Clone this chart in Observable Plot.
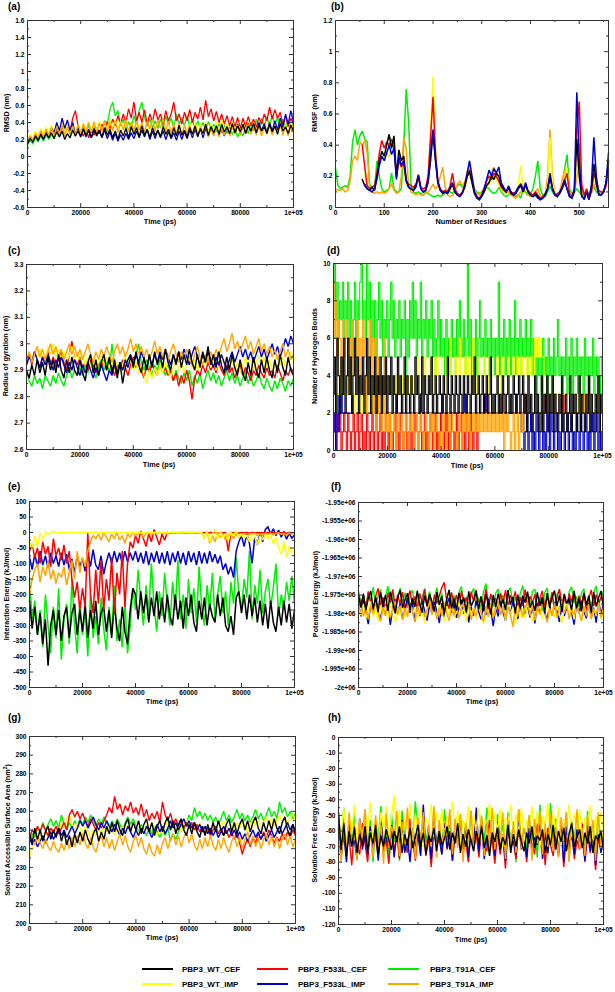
<!DOCTYPE html>
<html>
<head>
<meta charset="utf-8">
<script src="https://cdn.jsdelivr.net/npm/d3@7"></script>
<script src="https://cdn.jsdelivr.net/npm/@observablehq/plot@0.6"></script>
<style>
  body { margin: 0; background: #fff; }
  #page { position: relative; width: 615px; height: 992px; overflow: hidden; background: #fff;
          font-family: "Liberation Sans", Arial, sans-serif; font-weight: bold; color: #000; }
  .box { position: absolute; }
  .box svg { overflow: visible; display: block; }
  .tag { position: absolute; font-size: 10px; line-height: 1; }
  .xl { position: absolute; font-size: 7.3px; transform: translate(-50%, -50%); white-space: nowrap; }
  .yl { position: absolute; font-size: 7.2px; transform: translate(-50%, -50%) rotate(-90deg); white-space: nowrap; }
  .yl sup { font-size: 5px; }
  .lg-line { position: absolute; height: 2.5px; width: 31px; }
  .lg-text { position: absolute; font-size: 8px; transform: translateY(-50%); white-space: nowrap; }
</style>
</head>
<body>
<div id="page"></div>
<script>
// ---------------- sampling axes ----------------
const time = d3.range(0, 100001, 1000);      // ps
const timeHB = d3.range(0, 100001, 500);     // ps (hydrogen-bond panel)
const residues = d3.range(0, 561, 5);        // residue number

// ---------------- series names ----------------
const seriesKeys = ["WT_CEF", "F533L_CEF", "T91A_CEF", "WT_IMP", "F533L_IMP", "T91A_IMP"];
const seriesLabels = ["PBP3_WT_CEF", "PBP3_F533L_CEF", "PBP3_T91A_CEF", "PBP3_WT_IMP", "PBP3_F533L_IMP", "PBP3_T91A_IMP"];

// ---------------- (a) RMSD (nm) ----------------
const rmsd_WT_CEF = [0.15,0.21,0.17,0.24,0.19,0.26,0.2,0.27,0.22,0.28,
0.21,0.29,0.23,0.3,0.2,0.27,0.22,0.31,0.24,0.3,
0.23,0.32,0.25,0.3,0.22,0.33,0.26,0.31,0.23,0.34,
0.25,0.32,0.22,0.3,0.2,0.31,0.24,0.33,0.22,0.35,
0.26,0.34,0.23,0.36,0.25,0.32,0.22,0.34,0.25,0.31,
0.23,0.35,0.26,0.32,0.22,0.34,0.24,0.37,0.25,0.31,
0.23,0.34,0.26,0.36,0.24,0.33,0.27,0.38,0.25,0.35,
0.28,0.36,0.26,0.38,0.29,0.35,0.27,0.39,0.28,0.36,
0.29,0.38,0.27,0.36,0.3,0.39,0.28,0.37,0.3,0.35,
0.27,0.38,0.29,0.36,0.26,0.39,0.3,0.35,0.27,0.37,0.3];
const rmsd_F533L_CEF = [0.18,0.25,0.2,0.28,0.22,0.31,0.24,0.33,0.26,0.35,
0.27,0.33,0.25,0.36,0.28,0.35,0.3,0.45,0.54,0.36,
0.3,0.24,0.33,0.22,0.31,0.25,0.34,0.27,0.38,0.3,
0.41,0.33,0.44,0.36,0.48,0.38,0.5,0.4,0.56,0.45,
0.64,0.42,0.52,0.4,0.55,0.38,0.5,0.41,0.56,0.43,
0.5,0.38,0.54,0.42,0.5,0.64,0.42,0.5,0.38,0.52,
0.42,0.55,0.4,0.52,0.44,0.58,0.43,0.66,0.47,0.56,
0.42,0.53,0.4,0.5,0.38,0.48,0.36,0.47,0.35,0.46,
0.33,0.45,0.35,0.47,0.36,0.44,0.34,0.46,0.38,0.5,
0.42,0.58,0.44,0.55,0.45,0.52,0.38,0.48,0.35,0.45,0.38];
const rmsd_T91A_CEF = [0.13,0.19,0.15,0.22,0.17,0.24,0.18,0.26,0.2,0.25,
0.23,0.33,0.26,0.38,0.28,0.35,0.26,0.33,0.24,0.34,
0.25,0.35,0.27,0.37,0.28,0.36,0.3,0.4,0.32,0.42,
0.38,0.55,0.64,0.48,0.54,0.36,0.44,0.3,0.41,0.33,
0.48,0.38,0.55,0.64,0.46,0.36,0.44,0.34,0.42,0.33,
0.44,0.35,0.48,0.37,0.45,0.34,0.5,0.38,0.46,0.36,
0.48,0.35,0.44,0.32,0.42,0.33,0.4,0.3,0.41,0.32,
0.38,0.29,0.39,0.28,0.37,0.27,0.35,0.26,0.33,0.23,
0.3,0.24,0.34,0.27,0.4,0.3,0.44,0.33,0.45,0.35,
0.47,0.36,0.49,0.37,0.46,0.35,0.44,0.33,0.42,0.32,0.4];
const rmsd_WT_IMP = [0.18,0.26,0.2,0.3,0.23,0.33,0.25,0.35,0.27,0.37,
0.28,0.38,0.3,0.4,0.27,0.37,0.29,0.39,0.27,0.38,
0.28,0.39,0.3,0.41,0.29,0.38,0.31,0.42,0.3,0.4,
0.32,0.43,0.33,0.44,0.32,0.42,0.31,0.43,0.3,0.41,
0.29,0.39,0.27,0.36,0.25,0.35,0.24,0.34,0.23,0.32,
0.24,0.35,0.23,0.34,0.26,0.36,0.24,0.35,0.26,0.37,
0.28,0.39,0.27,0.4,0.29,0.38,0.28,0.41,0.3,0.39,
0.28,0.4,0.3,0.43,0.31,0.39,0.29,0.41,0.3,0.4,
0.28,0.39,0.3,0.42,0.29,0.4,0.31,0.38,0.27,0.4,
0.29,0.41,0.28,0.39,0.3,0.42,0.29,0.38,0.27,0.4,0.3];
const rmsd_F533L_IMP = [0.16,0.23,0.18,0.25,0.19,0.28,0.21,0.29,0.23,0.33,
0.28,0.4,0.3,0.45,0.33,0.43,0.3,0.4,0.26,0.34,
0.24,0.33,0.23,0.32,0.22,0.31,0.24,0.3,0.22,0.31,
0.21,0.29,0.19,0.27,0.18,0.26,0.19,0.27,0.2,0.28,
0.21,0.3,0.22,0.31,0.23,0.32,0.2,0.3,0.21,0.31,
0.22,0.3,0.2,0.29,0.21,0.28,0.19,0.3,0.2,0.29,
0.21,0.31,0.22,0.32,0.23,0.33,0.22,0.34,0.24,0.35,
0.25,0.36,0.26,0.33,0.24,0.35,0.26,0.37,0.28,0.38,
0.27,0.37,0.28,0.39,0.29,0.38,0.27,0.4,0.3,0.39,
0.28,0.4,0.3,0.42,0.31,0.45,0.34,0.5,0.38,0.54,0.4];
const rmsd_T91A_IMP = [0.17,0.24,0.19,0.27,0.21,0.3,0.23,0.32,0.24,0.34,
0.25,0.35,0.26,0.37,0.24,0.34,0.27,0.36,0.25,0.38,
0.27,0.39,0.28,0.4,0.29,0.41,0.28,0.39,0.3,0.4,
0.29,0.41,0.3,0.42,0.28,0.4,0.31,0.43,0.29,0.41,
0.3,0.42,0.31,0.4,0.29,0.42,0.32,0.44,0.3,0.43,
0.33,0.45,0.3,0.41,0.28,0.39,0.27,0.38,0.25,0.37,
0.26,0.37,0.25,0.36,0.24,0.35,0.26,0.37,0.23,0.34,
0.24,0.35,0.23,0.34,0.25,0.36,0.24,0.35,0.26,0.37,
0.25,0.36,0.27,0.38,0.26,0.37,0.25,0.36,0.24,0.35,
0.26,0.37,0.25,0.36,0.27,0.38,0.25,0.35,0.24,0.36,0.28];

// ---------------- (b) RMSF (nm) per residue ----------------
const rmsf_WT_CEF = [null,null,null,null,null,null,null,null,null,null,
null,0.18,0.14,0.12,0.11,0.13,0.11,0.2,0.3,0.36,
0.33,0.4,0.47,0.38,0.46,0.2,0.37,0.3,0.33,0.18,
0.13,0.12,0.11,0.14,0.2,0.12,0.1,0.11,0.16,0.3,
0.48,0.3,0.16,0.11,0.09,0.1,0.09,0.12,0.15,0.1,
0.08,0.07,0.09,0.13,0.2,0.23,0.16,0.09,0.06,0.05,
0.07,0.1,0.14,0.16,0.2,0.18,0.22,0.2,0.14,0.12,
0.1,0.13,0.09,0.08,0.09,0.12,0.14,0.1,0.15,0.1,
0.08,0.07,0.09,0.07,0.05,0.06,0.08,0.12,0.2,0.12,
0.08,0.07,0.09,0.12,0.16,0.12,0.07,0.06,0.1,0.44,
0.2,0.07,0.06,0.1,0.05,0.12,0.28,0.15,0.08,0.08,
0.1,0.16,0.3];
const rmsf_F533L_CEF = [null,null,null,null,null,null,null,null,null,null,
null,0.4,0.26,0.14,0.12,0.13,0.14,0.22,0.35,0.43,
0.38,0.42,0.4,0.44,0.38,0.2,0.3,0.26,0.28,0.17,
0.15,0.14,0.13,0.15,0.21,0.13,0.12,0.13,0.2,0.45,
0.71,0.35,0.17,0.12,0.1,0.11,0.1,0.14,0.22,0.12,
0.09,0.08,0.1,0.14,0.2,0.24,0.17,0.1,0.07,0.06,
0.08,0.12,0.17,0.2,0.18,0.22,0.2,0.17,0.13,0.11,
0.1,0.12,0.1,0.09,0.1,0.13,0.15,0.12,0.14,0.11,
0.09,0.08,0.1,0.08,0.06,0.07,0.09,0.12,0.19,0.12,
0.09,0.08,0.1,0.14,0.18,0.22,0.09,0.07,0.12,0.5,
0.68,0.15,0.08,0.12,0.07,0.1,0.22,0.17,0.11,0.1,
0.1,0.14,0.28];
const rmsf_T91A_CEF = [0.25,0.14,0.12,0.13,0.14,0.13,0.2,0.42,0.5,0.4,
0.46,0.49,0.44,0.42,0.15,0.12,0.11,0.3,0.2,0.12,
0.1,0.11,0.12,0.22,0.12,0.1,0.1,0.12,0.4,0.76,
0.55,0.14,0.1,0.09,0.1,0.09,0.08,0.1,0.09,0.08,
0.07,0.07,0.08,0.07,0.08,0.09,0.11,0.1,0.09,0.12,
0.14,0.15,0.13,0.16,0.2,0.25,0.18,0.12,0.1,0.09,
0.1,0.12,0.13,0.12,0.1,0.09,0.1,0.13,0.1,0.08,
0.07,0.08,0.1,0.09,0.07,0.08,0.06,0.12,0.1,0.08,
0.09,0.12,0.2,0.3,0.12,0.08,0.07,0.1,0.14,0.1,
0.08,0.09,0.1,0.14,0.25,0.34,0.12,0.09,0.1,0.12,
0.1,0.08,0.08,0.1,0.09,0.11,0.13,0.1,0.09,0.1,
0.11,0.15,0.25];
const rmsf_WT_IMP = [null,null,null,null,null,null,null,null,null,null,
null,null,0.22,0.13,0.12,0.12,0.11,0.2,0.28,0.34,
0.3,0.36,0.32,0.4,0.42,0.2,0.3,0.25,0.28,0.15,
0.13,0.12,0.11,0.13,0.18,0.12,0.11,0.12,0.2,0.5,
0.84,0.4,0.15,0.11,0.1,0.1,0.09,0.11,0.13,0.1,
0.08,0.08,0.09,0.12,0.18,0.22,0.15,0.09,0.07,0.06,
0.08,0.1,0.13,0.15,0.17,0.2,0.18,0.15,0.12,0.1,
0.1,0.12,0.09,0.08,0.1,0.14,0.27,0.12,0.13,0.1,
0.08,0.07,0.08,0.07,0.06,0.07,0.08,0.14,0.45,0.15,
0.08,0.07,0.09,0.15,0.2,0.25,0.1,0.07,0.09,0.3,
0.2,0.08,0.06,0.1,0.06,0.1,0.2,0.14,0.09,0.09,
0.1,0.15,0.3];
const rmsf_F533L_IMP = [null,null,null,null,null,null,null,null,null,null,
null,null,0.15,0.12,0.11,0.1,0.12,0.18,0.27,0.33,
0.3,0.35,0.4,0.34,0.38,0.18,0.33,0.27,0.3,0.17,
0.13,0.12,0.11,0.13,0.21,0.12,0.1,0.11,0.18,0.35,
0.5,0.32,0.16,0.11,0.1,0.1,0.09,0.13,0.16,0.1,
0.08,0.07,0.09,0.14,0.22,0.3,0.2,0.1,0.07,0.05,
0.08,0.12,0.18,0.24,0.2,0.25,0.22,0.26,0.16,0.13,
0.1,0.14,0.1,0.08,0.1,0.13,0.15,0.11,0.16,0.1,
0.08,0.07,0.08,0.06,0.05,0.06,0.08,0.12,0.22,0.12,
0.08,0.07,0.1,0.13,0.18,0.12,0.07,0.06,0.12,0.74,
0.3,0.08,0.05,0.1,0.05,0.15,0.45,0.2,0.09,0.08,
0.1,0.16,0.35];
const rmsf_T91A_IMP = [0.12,0.11,0.11,0.12,0.1,0.11,0.17,0.3,0.33,0.3,
0.42,0.4,0.43,0.35,0.13,0.1,0.09,0.1,0.09,0.1,
0.09,0.1,0.12,0.15,0.11,0.09,0.1,0.2,0.45,0.38,
0.14,0.1,0.09,0.08,0.09,0.08,0.08,0.09,0.1,0.12,
0.15,0.12,0.14,0.2,0.26,0.13,0.08,0.07,0.08,0.1,
0.15,0.17,0.14,0.16,0.22,0.28,0.2,0.12,0.09,0.08,
0.1,0.13,0.14,0.16,0.22,0.26,0.2,0.16,0.12,0.1,
0.09,0.1,0.08,0.07,0.06,0.08,0.1,0.12,0.09,0.08,
0.07,0.08,0.1,0.12,0.08,0.06,0.08,0.2,0.5,0.2,
0.09,0.08,0.1,0.18,0.24,0.2,0.1,0.08,0.09,0.2,
0.41,0.12,0.08,0.1,0.07,0.09,0.15,0.12,0.1,0.1,
0.11,0.14,0.2];

// ---------------- (c) Radius of gyration (nm) ----------------
const rg_WT_CEF = [2.9,2.87,2.92,2.88,2.94,2.89,2.93,2.88,2.95,2.9,
2.94,2.89,2.96,2.9,2.87,2.94,2.89,2.95,2.9,2.88,
2.94,2.89,2.86,2.93,2.96,2.89,2.94,2.88,2.93,2.96,
2.9,2.95,2.89,2.94,2.87,2.93,2.85,2.91,2.94,2.96,
2.91,2.97,2.92,2.89,2.95,2.9,2.96,2.91,2.97,2.92,
2.96,2.91,2.98,2.93,2.9,2.96,2.92,2.97,2.91,2.96,
2.92,2.98,2.93,2.9,2.96,2.91,2.97,2.93,2.99,2.92,
2.96,2.91,2.97,2.92,2.89,2.95,2.9,2.96,2.91,2.88,
2.94,2.89,2.86,2.93,2.88,2.95,2.9,2.87,2.94,2.89,
2.95,2.9,2.87,2.94,2.89,2.96,2.91,2.88,2.95,2.9,2.88];
const rg_F533L_CEF = [2.93,2.96,2.92,2.97,2.94,2.91,2.95,2.93,2.97,2.92,
2.95,2.91,2.94,2.97,2.93,2.9,2.96,3.01,2.94,2.92,
2.95,2.91,2.93,2.9,2.94,2.92,2.89,2.93,2.91,2.94,
2.9,2.93,2.91,2.88,2.92,2.9,2.94,2.91,2.88,2.92,
2.95,2.91,2.94,2.9,2.87,2.92,2.89,2.93,2.9,2.88,
2.92,2.89,2.91,2.88,2.9,2.86,2.89,2.84,2.88,2.85,
2.9,2.86,2.79,2.87,2.9,2.88,2.92,2.89,2.93,2.9,
2.92,2.89,2.93,2.9,2.88,2.92,2.89,2.91,2.87,2.9,
2.92,2.88,2.91,2.89,2.86,2.9,2.88,2.92,2.89,2.87,
2.91,2.88,2.9,2.87,2.92,2.89,2.86,2.9,2.88,2.91,2.89];
const rg_T91A_CEF = [2.9,2.86,2.84,2.88,2.85,2.87,2.83,2.88,2.86,2.84,
2.88,2.85,2.89,2.86,2.84,2.88,2.91,2.87,2.9,2.88,
2.91,2.88,2.92,2.89,2.93,2.9,2.87,2.91,2.94,2.9,
2.93,2.89,3.0,2.92,2.89,2.93,2.9,2.94,2.91,2.95,
2.92,2.96,3.0,2.93,2.9,2.94,2.91,2.88,2.92,2.9,
2.94,2.91,2.88,2.92,2.89,2.86,2.9,2.87,2.85,2.89,
2.86,2.9,2.84,2.88,2.85,2.89,2.83,2.87,2.9,2.86,
2.89,2.85,2.88,2.84,2.87,2.9,2.86,2.89,2.85,2.88,
2.84,2.87,2.9,2.85,2.88,2.84,2.86,2.89,2.85,2.83,
2.87,2.84,2.82,2.86,2.83,2.87,2.85,2.82,2.86,2.84,2.87];
const rg_WT_IMP = [2.92,2.95,2.93,2.97,2.94,2.98,2.95,2.93,2.99,2.96,
3.0,2.95,2.98,2.94,2.97,2.93,2.96,2.99,2.94,2.97,
2.93,2.96,2.92,2.95,2.91,2.94,2.9,2.93,2.96,2.92,
2.95,2.91,2.94,2.9,2.93,2.89,2.92,2.95,2.91,2.94,
2.9,2.93,2.89,2.92,2.88,2.85,2.9,2.87,2.91,2.88,
2.92,2.89,2.93,2.9,2.87,2.91,2.94,2.9,2.93,2.89,
2.92,2.95,2.91,2.94,2.9,2.93,2.96,2.92,2.95,2.91,
2.94,2.9,2.93,2.96,2.92,2.95,2.91,2.94,2.9,2.93,
2.89,2.92,2.95,2.91,2.94,2.9,2.93,2.96,2.92,2.95,
2.91,2.94,2.9,2.93,2.96,2.92,2.95,2.91,2.94,2.97,2.93];
const rg_F533L_IMP = [2.92,2.95,2.93,2.97,2.94,2.91,2.95,2.92,2.96,2.93,
2.9,2.94,2.91,2.95,2.92,2.89,2.93,2.9,2.94,2.91,
2.88,2.92,2.89,2.93,2.9,2.87,2.91,2.88,2.92,2.89,
2.86,2.9,2.88,2.92,2.89,2.93,2.9,2.94,2.91,2.95,
2.92,2.96,2.93,2.97,2.94,2.91,2.95,2.92,2.96,2.93,
2.97,2.94,2.98,2.95,2.92,2.96,2.93,2.97,2.94,2.98,
2.95,2.92,2.96,2.99,2.95,2.92,2.96,2.93,2.97,2.94,
2.91,2.95,2.92,2.96,2.93,2.9,2.94,2.97,2.93,2.96,
2.99,2.95,2.98,2.94,2.97,2.93,2.96,2.99,2.95,2.98,
2.94,2.97,3.0,2.96,2.99,2.95,2.98,3.02,2.99,3.03,3.0];
const rg_T91A_IMP = [2.94,2.97,2.93,2.96,2.99,2.95,2.98,2.94,2.97,3.0,
2.96,2.99,2.95,2.98,2.94,2.97,3.0,2.96,2.99,2.95,
2.98,2.94,2.97,3.0,2.96,2.93,2.97,2.94,2.98,2.95,
2.99,2.96,2.93,2.97,3.0,2.96,2.99,2.95,2.98,3.02,
2.97,3.0,2.96,2.99,2.95,2.98,2.94,2.97,3.01,2.96,
2.99,2.95,2.98,2.94,2.97,3.0,2.96,2.93,2.97,2.94,
2.98,2.95,2.92,2.96,2.99,2.95,2.92,2.96,2.93,2.97,
2.94,2.98,2.95,2.99,3.02,2.97,3.0,3.04,2.98,3.01,
2.97,3.0,3.03,2.98,3.01,2.96,2.99,3.02,2.97,3.0,
2.96,2.99,2.95,2.98,2.94,2.97,3.0,2.95,2.98,2.94,2.96];

// ---------------- (d) Number of hydrogen bonds (every 500 ps) ----------------
const hb_WT_CEF = [3,5,2,6,4,2,5,3,6,2, 4,6,3,5,2,4,6,3,5,2, 4,3,5,2,4,6,3,5,2,4, 3,5,2,4,3,5,2,4,3,5,
2,4,3,5,2,4,3,2,5,3, 4,2,3,5,2,4,3,2,4,3, 2,5,3,4,2,3,5,2,4,3, 2,4,3,5,2,3,4,2,3,4,
3,2,4,3,2,5,3,2,4,3, 2,4,3,2,4,3,2,4,3,2, 4,3,2,4,3,5,2,3,4,2, 3,4,2,3,4,2,3,5,2,3,
2,3,4,2,3,2,4,3,2,3, 4,2,3,2,4,3,2,3,4,2, 3,4,2,3,1,4,2,3,1,2, 4,2,3,1,2,4,1,3,2,4,
1,3,2,4,1,3,2,1,3,2, 4,1,2,3,1,2,4,1,3,2, 3,1,2,4,1,3,2,1,3,2, 4,1,3,2,1,3,2,4,1,3, 2];
const hb_F533L_CEF = [2,1,0,2,1,2,0,1,2,1, 0,2,1,0,1,2,0,1,2,0, 1,2,0,1,0,2,1,0,1,2, 0,1,2,0,1,2,0,1,0,2,
1,0,2,1,0,1,2,0,1,0, 2,1,0,1,2,0,1,2,0,1, 0,2,1,0,1,2,0,1,2,0, 1,0,2,1,0,1,2,0,1,0,
2,1,0,1,2,0,1,0,2,1, 0,1,2,0,1,2,0,1,0,2, 1,0,2,1,0,1,2,0,1,2, 2,2,2,3,2,2,2,2,2,2,
2,2,2,2,2,2,3,2,2,2, 2,2,2,2,2,2,2,2,2,2, 2,2,3,2,2,2,2,2,2,2, 2,2,2,2,2,2,2,2,3,2,
2,2,2,2,2,2,2,2,2,2, 2,3,2,2,2,2,2,2,2,2, 2,2,2,2,2,2,2,3,2,2, 2,2,2,2,2,2,2,2,2,2, 2];
const hb_T91A_CEF = [8,10,7,9,6,8,7,9,6,8, 7,9,6,8,5,7,9,6,8,7, 9,10,7,8,6,10,7,9,5,8, 6,8,5,7,9,6,8,5,7,6,
8,5,7,9,6,8,5,7,6,8, 5,7,6,8,4,7,5,8,6,9, 6,8,5,7,6,9,5,7,6,8, 5,7,6,8,5,7,4,6,8,5,
7,5,6,4,7,5,6,4,7,5, 6,4,7,5,8,6,5,7,4,6, 10,5,7,4,6,5,7,4,6,8, 5,6,4,7,5,6,4,7,5,6,
4,6,5,9,4,6,5,7,4,6, 5,7,4,6,5,8,4,6,5,7, 4,6,5,7,4,6,5,7,4,6, 5,3,6,4,5,3,6,4,5,3,
6,4,5,3,6,4,5,7,4,5, 3,5,4,6,3,5,4,6,3,5, 4,6,3,5,4,5,3,6,4,5, 3,5,4,6,3,5,4,5,3,4, 5];
const hb_WT_IMP = [3,3,2,3,3,3,4,3,3,3, 3,3,4,3,3,3,2,3,3,3, 3,2,3,3,3,4,3,3,3,2, 3,3,3,4,3,3,3,2,3,3,
3,3,4,3,3,3,3,4,3,3, 3,4,3,3,3,4,3,3,4,3, 3,4,4,5,4,4,3,4,5,4, 4,4,5,4,4,3,5,4,4,5,
5,4,4,3,5,4,4,6,4,4, 4,5,4,4,6,4,4,4,5,4, 4,5,4,4,6,4,4,3,5,4, 4,4,5,4,4,3,5,4,4,4,
4,4,5,4,4,3,5,4,4,4, 5,4,4,4,5,4,4,5,4,4, 5,4,4,4,5,4,4,5,4,4, 6,5,6,5,6,5,5,4,4,3,
3,3,3,3,3,3,3,3,3,3, 3,3,3,3,3,3,3,3,3,3, 3,3,2,3,3,3,2,3,3,3, 3,3,2,3,3,3,3,2,3,3, 3];
const hb_F533L_IMP = [1,2,0,3,1,2,3,2,2,2, 2,2,2,2,3,2,2,2,2,2, 2,2,2,2,2,2,2,2,2,2, 2,2,3,2,2,2,2,2,2,2,
2,2,2,2,2,2,2,3,2,2, 2,2,2,2,2,2,2,2,2,2, 2,2,2,2,2,3,2,2,2,2, 2,2,2,2,2,2,2,2,2,2,
2,3,2,2,2,2,2,2,2,2, 2,2,2,2,2,2,2,2,3,2, 2,2,2,2,2,2,2,2,2,2, 2,2,2,3,2,2,2,2,2,2,
2,2,2,2,2,2,2,2,2,2, 2,2,2,2,2,2,3,2,2,2, 1,2,0,1,2,0,1,2,0,1, 0,2,1,0,1,2,0,1,0,2,
1,0,2,1,0,1,2,0,1,0, 2,1,0,1,2,0,1,2,0,1, 0,2,1,0,2,1,0,1,2,0, 1,0,2,1,0,1,2,0,1,0, 1];
const hb_T91A_IMP = [9,6,8,5,7,6,4,7,5,6, 7,3,6,5,7,4,6,5,7,3, 6,4,7,5,6,2,5,7,4,6, 2,6,1,5,2,4,1,2,6,1,
2,1,2,0,1,2,1,0,2,1, 1,2,0,1,2,1,0,2,1,2, 0,1,2,0,1,2,1,0,1,2, 1,0,2,1,2,0,1,2,1,0,
1,0,2,1,0,1,2,0,1,2, 2,1,0,1,2,1,0,2,1,2, 1,2,0,1,2,1,2,1,2,1, 2,1,2,1,2,1,2,1,2,1,
2,1,2,1,2,1,2,0,2,1, 2,1,0,1,2,0,1,2,0,1, 2,1,2,2,2,2,2,2,2,2, 2,2,2,2,2,2,2,2,2,2,
2,2,2,2,3,2,2,2,2,2, 2,2,2,2,2,2,2,2,2,2, 2,2,2,2,2,2,2,3,2,2, 2,2,2,2,2,2,2,2,2,2, 2];

// ---------------- (e) Interaction energy (kJ/mol) ----------------
const ie_WT_CEF = [-220,-310,-240,-330,-260,-360,-280,-430,-300,-250,
-330,-250,-350,-270,-240,-340,-260,-230,-330,-250,
-320,-230,-340,-250,-310,-220,-330,-260,-240,-320,
-250,-340,-230,-310,-350,-240,-320,-360,-250,-180,
-200,-280,-190,-260,-200,-290,-210,-270,-190,-280,
-210,-290,-200,-270,-300,-200,-280,-220,-310,-210,
-270,-200,-290,-320,-220,-280,-210,-300,-230,-270,
-290,-200,-270,-210,-300,-320,-270,-330,-210,-190,
-260,-200,-280,-200,-270,-210,-290,-220,-300,-230,
-310,-220,-290,-320,-240,-300,-220,-290,-230,-310,-250];
const ie_F533L_CEF = [-60,-40,-80,-50,-100,-30,-70,-45,-110,-20,
-75,-50,-90,-40,-100,-60,-150,-210,-160,-250,
-180,-240,0,-200,-260,-120,-230,-90,-250,-150,
-220,-80,-260,-130,-200,-60,-240,-100,-30,-50,
-10,-35,5,-20,-45,-5,-30,10,-15,-40,
-5,-25,0,-3,0,-2,0,-1,0,-2,
0,-1,0,-2,0,-1,0,-2,0,-1,
0,-2,0,-1,0,-60,0,-1,0,-2,
0,-1,0,-2,0,-1,0,-1,0,-2,
0,-1,0,-2,0,-1,0,-2,0,-1,0];
const ie_T91A_CEF = [-150,-280,-220,-330,-250,-370,-200,-300,-390,-240,
-340,-180,-410,-280,-230,-360,-150,-300,-390,-220,
-330,-250,-400,-200,-340,-270,-360,-210,-310,-380,
-240,-330,-170,-350,-280,-370,-220,-390,-300,-180,
-250,-120,-220,-300,-170,-260,-100,-240,-320,-190,
-270,-130,-230,-300,-160,-250,-90,-280,-200,-310,
-150,-260,-180,-290,-110,-240,-300,-170,-250,-130,
-280,-200,-140,-260,-190,-300,-160,-230,-80,-200,
-250,-150,-210,-60,-280,-170,-230,-120,-260,-190,
-150,-240,-180,-100,-270,-200,-250,-160,-220,-140,-230];
const ie_WT_IMP = [-30,-55,-10,-45,-2,-20,0,-5,0,3,
0,-2,1,0,-1,0,2,0,-1,0,
0,1,0,-1,0,2,0,-1,0,1,
0,-1,0,1,0,-1,0,1,0,-1,
0,1,0,-1,0,1,0,0,-1,0,
1,0,-1,0,1,0,-1,0,1,0,
0,-1,0,1,0,-1,-20,5,-30,-5,
10,-20,5,-15,-5,-25,0,-10,5,-15,
-5,-20,-8,-30,-3,-15,-40,-10,-25,-5,
-20,-8,-35,-15,-50,-70,-30,-80,-45,-60,-75];
const ie_F533L_IMP = [-80,-120,-70,-110,-60,-105,-75,-115,-65,-100,
-75,-110,-65,-105,-70,-120,-85,-130,-75,-110,
-85,-125,-65,-110,-55,-105,-120,-75,-135,-95,
-65,-100,-60,-95,-65,-100,-60,-95,-65,-90,
-60,-95,-65,-100,-60,-105,-65,-95,-60,-100,
-65,-100,-60,-105,-65,-95,-60,-100,-65,-105,
-60,-95,-65,-105,-60,-100,-65,-100,-60,-95,
-70,-100,-75,-120,-100,-135,-110,-145,-60,-30,
-10,-45,-5,-35,-100,-15,-40,0,-30,10,
18,-5,12,-10,8,-15,3,-22,-2,-18,-8];
const ie_T91A_IMP = [-200,-150,-120,-100,-160,-110,-140,-95,-150,-120,
-165,-130,-145,-110,-170,-125,-90,-150,-60,-130,
-80,-110,-60,-30,-10,-20,-5,-25,0,-15,
-30,-5,-20,0,-25,-10,-35,-5,-15,0,
-10,-5,0,-15,-3,0,-8,0,-4,0,
-2,0,-5,0,-3,0,-2,0,-1,0,
-3,0,-1,0,-2,0,-20,5,-35,-10,
-30,0,-15,-5,-25,-10,0,-20,-5,-15,
-10,-3,-12,-5,-8,-2,-10,-4,-8,-3,
-6,-2,-8,-4,-1,-6,-3,-9,-2,-5,-4];

// ---------------- (f) Potential energy (kJ/mol) ----------------
const pe_WT_CEF = [-1975.2e3,-1978.4e3,-1974.6e3,-1979.1e3,-1976.0e3,-1973.9e3,-1978.8e3,-1975.5e3,-1979.6e3,-1974.3e3,
-1977.9e3,-1975.0e3,-1979.3e3,-1974.1e3,-1977.2e3,-1980.0e3,-1975.6e3,-1973.7e3,-1978.5e3,-1976.3e3,
-1974.5e3,-1979.0e3,-1975.8e3,-1978.2e3,-1973.8e3,-1977.5e3,-1979.8e3,-1975.1e3,-1978.0e3,-1974.7e3,
-1976.9e3,-1979.5e3,-1974.2e3,-1977.7e3,-1975.3e3,-1980.1e3,-1976.1e3,-1973.6e3,-1978.6e3,-1975.9e3,
-1979.2e3,-1974.4e3,-1977.4e3,-1975.7e3,-1979.7e3,-1974.0e3,-1978.1e3,-1976.4e3,-1973.9e3,-1978.9e3,
-1975.4e3,-1979.4e3,-1974.8e3,-1977.1e3,-1980.2e3,-1975.0e3,-1978.3e3,-1974.6e3,-1977.8e3,-1976.2e3,
-1979.1e3,-1973.7e3,-1977.6e3,-1975.5e3,-1979.9e3,-1974.9e3,-1978.7e3,-1975.2e3,-1977.0e3,-1974.1e3,
-1978.4e3,-1976.7e3,-1979.3e3,-1974.3e3,-1977.9e3,-1975.6e3,-1980.0e3,-1974.5e3,-1978.2e3,-1975.8e3,
-1973.8e3,-1978.0e3,-1975.1e3,-1979.6e3,-1974.7e3,-1977.3e3,-1975.9e3,-1979.0e3,-1974.0e3,-1978.6e3,
-1976.0e3,-1979.4e3,-1974.4e3,-1977.7e3,-1975.3e3,-1979.8e3,-1974.2e3,-1978.1e3,-1975.7e3,-1973.9e3,-1978.5e3];
const pe_F533L_CEF = [-1974.8e3,-1977.6e3,-1975.1e3,-1978.9e3,-1974.0e3,-1977.2e3,-1979.4e3,-1975.3e3,-1973.2e3,-1977.8e3,
-1975.6e3,-1979.0e3,-1974.4e3,-1976.9e3,-1973.5e3,-1978.3e3,-1975.0e3,-1977.5e3,-1974.2e3,-1979.2e3,
-1976.1e3,-1973.8e3,-1977.9e3,-1975.4e3,-1978.6e3,-1974.6e3,-1977.0e3,-1973.4e3,-1978.1e3,-1975.7e3,
-1979.3e3,-1974.9e3,-1977.3e3,-1975.2e3,-1973.0e3,-1971.6e3,-1976.5e3,-1978.7e3,-1974.3e3,-1977.6e3,
-1975.0e3,-1979.1e3,-1973.9e3,-1977.4e3,-1975.8e3,-1978.4e3,-1974.1e3,-1976.8e3,-1973.6e3,-1978.0e3,
-1975.5e3,-1977.7e3,-1973.3e3,-1978.8e3,-1974.7e3,-1977.1e3,-1975.9e3,-1979.5e3,-1974.5e3,-1977.3e3,
-1973.7e3,-1978.2e3,-1975.1e3,-1976.6e3,-1974.0e3,-1979.0e3,-1975.6e3,-1977.9e3,-1973.5e3,-1978.5e3,
-1975.3e3,-1977.2e3,-1974.8e3,-1979.3e3,-1976.0e3,-1973.9e3,-1978.1e3,-1975.4e3,-1977.6e3,-1974.2e3,
-1978.9e3,-1975.7e3,-1973.4e3,-1977.5e3,-1975.0e3,-1979.2e3,-1974.6e3,-1977.0e3,-1973.8e3,-1978.3e3,
-1975.2e3,-1977.8e3,-1974.4e3,-1979.4e3,-1975.9e3,-1973.6e3,-1978.0e3,-1974.9e3,-1977.4e3,-1975.5e3,-1977.1e3];
const pe_T91A_CEF = [-1973.8e3,-1977.1e3,-1975.0e3,-1978.4e3,-1974.2e3,-1976.8e3,-1972.9e3,-1977.9e3,-1975.3e3,-1973.5e3,
-1978.0e3,-1975.6e3,-1972.6e3,-1977.4e3,-1974.7e3,-1978.8e3,-1975.9e3,-1973.1e3,-1977.0e3,-1974.4e3,
-1978.5e3,-1975.2e3,-1973.7e3,-1977.7e3,-1974.9e3,-1979.0e3,-1975.5e3,-1973.3e3,-1977.3e3,-1974.1e3,
-1978.2e3,-1975.8e3,-1973.0e3,-1977.6e3,-1974.6e3,-1978.9e3,-1976.2e3,-1973.6e3,-1977.2e3,-1975.1e3,
-1978.6e3,-1974.3e3,-1972.7e3,-1977.8e3,-1975.4e3,-1978.1e3,-1974.8e3,-1973.2e3,-1977.5e3,-1975.7e3,
-1979.1e3,-1974.0e3,-1971.9e3,-1977.0e3,-1975.2e3,-1978.3e3,-1974.5e3,-1973.4e3,-1977.7e3,-1975.0e3,
-1978.7e3,-1974.2e3,-1973.0e3,-1977.4e3,-1975.6e3,-1978.0e3,-1974.7e3,-1972.4e3,-1977.1e3,-1975.3e3,
-1978.4e3,-1974.0e3,-1973.5e3,-1977.9e3,-1975.8e3,-1979.2e3,-1974.4e3,-1973.1e3,-1977.3e3,-1975.5e3,
-1978.6e3,-1974.9e3,-1973.7e3,-1977.6e3,-1975.1e3,-1978.9e3,-1974.1e3,-1972.8e3,-1977.2e3,-1975.4e3,
-1978.1e3,-1974.6e3,-1973.3e3,-1977.8e3,-1975.0e3,-1978.5e3,-1974.3e3,-1972.6e3,-1977.5e3,-1975.7e3,-1973.9e3];
const pe_WT_IMP = [-1978.2e3,-1980.5e3,-1977.4e3,-1981.3e3,-1979.0e3,-1976.8e3,-1980.9e3,-1978.6e3,-1982.0e3,-1977.9e3,
-1980.2e3,-1978.0e3,-1981.6e3,-1977.2e3,-1979.7e3,-1982.4e3,-1978.4e3,-1980.7e3,-1977.6e3,-1981.0e3,
-1979.3e3,-1976.9e3,-1980.4e3,-1978.1e3,-1981.8e3,-1977.7e3,-1980.0e3,-1982.6e3,-1978.8e3,-1976.6e3,
-1980.6e3,-1978.3e3,-1981.4e3,-1977.5e3,-1979.9e3,-1982.1e3,-1978.0e3,-1980.8e3,-1977.3e3,-1981.2e3,
-1979.5e3,-1977.0e3,-1980.3e3,-1978.7e3,-1982.3e3,-1977.8e3,-1980.1e3,-1978.2e3,-1981.5e3,-1977.1e3,
-1979.8e3,-1982.8e3,-1978.5e3,-1980.6e3,-1977.4e3,-1981.1e3,-1978.9e3,-1976.7e3,-1980.5e3,-1978.0e3,
-1981.9e3,-1977.6e3,-1980.2e3,-1978.4e3,-1983.0e3,-1977.9e3,-1980.9e3,-1978.6e3,-1981.3e3,-1977.2e3,
-1979.6e3,-1982.2e3,-1978.1e3,-1980.4e3,-1977.5e3,-1981.7e3,-1978.8e3,-1976.9e3,-1980.7e3,-1978.3e3,
-1981.0e3,-1977.7e3,-1980.0e3,-1982.5e3,-1978.6e3,-1976.8e3,-1980.8e3,-1978.2e3,-1981.6e3,-1977.4e3,
-1979.9e3,-1982.0e3,-1978.0e3,-1980.3e3,-1977.6e3,-1981.4e3,-1978.7e3,-1980.6e3,-1977.1e3,-1981.8e3,-1979.2e3];
const pe_F533L_IMP = [-1977.5e3,-1980.8e3,-1976.4e3,-1979.6e3,-1982.9e3,-1977.1e3,-1980.2e3,-1975.8e3,-1979.0e3,-1981.7e3,
-1976.9e3,-1980.5e3,-1977.8e3,-1983.1e3,-1978.4e3,-1976.2e3,-1980.0e3,-1977.3e3,-1981.4e3,-1978.7e3,
-1975.9e3,-1979.8e3,-1977.0e3,-1982.2e3,-1978.1e3,-1980.7e3,-1976.5e3,-1979.3e3,-1981.9e3,-1977.6e3,
-1980.3e3,-1976.8e3,-1979.5e3,-1982.6e3,-1977.2e3,-1980.9e3,-1978.0e3,-1975.7e3,-1979.9e3,-1977.4e3,
-1981.2e3,-1978.5e3,-1976.3e3,-1980.1e3,-1977.9e3,-1982.4e3,-1978.2e3,-1980.6e3,-1976.6e3,-1979.4e3,
-1981.6e3,-1977.7e3,-1980.4e3,-1976.0e3,-1979.1e3,-1983.4e3,-1978.3e3,-1980.8e3,-1977.0e3,-1979.7e3,
-1982.0e3,-1977.5e3,-1980.2e3,-1976.7e3,-1979.2e3,-1981.5e3,-1978.6e3,-1976.1e3,-1980.6e3,-1977.8e3,
-1981.1e3,-1978.0e3,-1982.7e3,-1977.3e3,-1980.0e3,-1976.4e3,-1979.6e3,-1981.8e3,-1977.6e3,-1980.4e3,
-1976.9e3,-1979.3e3,-1982.3e3,-1977.9e3,-1980.7e3,-1978.2e3,-1975.8e3,-1979.8e3,-1983.0e3,-1977.4e3,
-1980.1e3,-1976.5e3,-1979.5e3,-1981.3e3,-1977.1e3,-1980.9e3,-1978.4e3,-1982.5e3,-1976.8e3,-1979.9e3,-1977.7e3];
const pe_T91A_IMP = [-1979.5e3,-1977.2e3,-1980.8e3,-1978.0e3,-1981.6e3,-1977.6e3,-1980.1e3,-1976.9e3,-1979.8e3,-1982.1e3,
-1978.3e3,-1980.6e3,-1977.4e3,-1981.2e3,-1978.7e3,-1976.6e3,-1980.3e3,-1977.9e3,-1981.8e3,-1978.5e3,
-1980.9e3,-1977.0e3,-1979.6e3,-1982.3e3,-1978.1e3,-1980.4e3,-1977.7e3,-1981.0e3,-1978.9e3,-1976.5e3,
-1980.2e3,-1977.8e3,-1981.5e3,-1978.4e3,-1980.7e3,-1977.1e3,-1979.9e3,-1982.0e3,-1978.2e3,-1980.5e3,
-1977.5e3,-1981.3e3,-1978.6e3,-1976.8e3,-1980.0e3,-1977.3e3,-1981.7e3,-1978.8e3,-1980.6e3,-1977.6e3,
-1979.7e3,-1982.2e3,-1978.0e3,-1980.9e3,-1977.2e3,-1981.1e3,-1978.5e3,-1976.7e3,-1980.4e3,-1977.9e3,
-1981.4e3,-1978.2e3,-1980.1e3,-1983.6e3,-1978.7e3,-1980.8e3,-1977.0e3,-1981.0e3,-1978.3e3,-1976.9e3,
-1980.5e3,-1977.7e3,-1981.9e3,-1978.1e3,-1980.3e3,-1977.4e3,-1979.8e3,-1982.4e3,-1978.6e3,-1980.7e3,
-1977.1e3,-1981.2e3,-1978.4e3,-1976.6e3,-1980.0e3,-1977.8e3,-1981.6e3,-1978.9e3,-1980.2e3,-1977.3e3,
-1979.6e3,-1982.0e3,-1978.0e3,-1980.8e3,-1977.5e3,-1981.5e3,-1978.7e3,-1980.3e3,-1977.0e3,-1981.1e3,-1978.4e3];

// ---------------- (g) SASA (nm^2) ----------------
const sasa_WT_CEF = [248,243,251,245,250,244,249,252,245,250,
246,251,244,249,242,247,241,248,243,249,
244,250,245,242,248,251,244,249,245,252,
248,254,249,255,250,247,253,256,249,254,
250,255,248,253,256,249,254,247,252,255,
249,254,257,250,255,248,253,256,250,247,
253,248,254,249,246,252,247,253,248,254,
249,255,250,247,253,256,249,254,248,253,
256,250,255,249,254,257,251,248,254,249,
255,250,256,251,248,254,257,250,247,253,248];
const sasa_F533L_CEF = [246,250,248,252,249,253,250,247,251,249,
252,248,251,254,250,258,261,257,260,256,
259,255,252,256,253,250,254,251,255,258,
262,259,268,261,264,258,263,260,265,259,
262,258,264,257,261,255,259,256,260,254,
265,258,255,259,253,256,252,255,251,254,
251,254,250,253,249,252,248,251,247,250,
252,248,251,247,250,246,249,245,248,243,
237,242,245,241,246,243,248,245,249,246,
250,247,243,246,244,248,245,249,246,250,247];
const sasa_T91A_CEF = [244,248,246,251,249,254,250,253,256,252,
255,251,258,253,250,254,251,255,252,256,
253,257,254,258,255,252,256,253,257,254,
251,255,252,256,253,250,254,257,253,256,
252,249,253,250,247,251,248,252,249,246,
250,247,251,244,248,245,249,253,250,254,
258,255,262,257,260,256,259,255,258,254,
257,253,256,260,255,258,254,257,261,256,
259,255,258,254,257,261,256,259,255,258,
262,257,260,256,265,259,262,257,260,256,259];
const sasa_WT_IMP = [236,241,245,243,247,244,249,246,250,248,
252,249,254,251,256,258,253,250,254,251,
248,252,249,246,250,247,251,248,252,249,
253,250,247,251,248,252,249,253,250,254,
251,248,252,249,253,250,254,251,247,251,
248,252,255,251,254,250,253,249,252,256,
252,249,253,250,254,251,248,252,249,253,
250,254,251,255,252,249,253,250,254,251,
255,252,249,253,256,252,255,251,254,257,
253,256,252,255,258,254,257,253,256,259,255];
const sasa_F533L_IMP = [246,242,245,241,244,247,243,246,249,245,
248,251,247,250,246,249,252,248,251,255,
252,255,251,254,257,253,250,254,251,255,
252,249,253,250,247,251,248,252,249,246,
250,247,251,248,252,249,246,250,253,249,
252,248,251,255,251,254,250,253,256,252,
255,251,254,250,253,249,252,248,251,247,
250,246,249,252,248,251,247,250,246,249,
245,248,244,247,250,246,249,245,248,244,
247,250,246,249,252,248,251,254,250,253,249];
const sasa_T91A_IMP = [248,244,242,247,243,240,245,241,239,244,
240,238,243,239,245,240,246,241,247,242,
248,243,240,246,241,238,244,247,241,246,
240,245,239,244,248,242,247,241,238,244,
247,241,246,240,237,243,238,236,242,237,
243,246,240,245,248,242,247,241,246,249,
243,248,242,239,245,240,246,241,247,242,
239,245,240,246,241,238,244,247,241,246,
240,245,249,242,247,241,246,240,245,248,
242,247,241,246,240,245,248,242,247,241,245];

// ---------------- (h) Solvation free energy (kJ/mol) ----------------
const sfe_WT_CEF = [-48,-72,-55,-76,-60,-70,-58,-74,-62,-69,
-57,-73,-61,-68,-56,-75,-63,-70,-59,-66,
-72,-60,-67,-57,-74,-62,-69,-58,-71,-64,
-56,-70,-61,-75,-63,-67,-58,-73,-60,-69,
-65,-57,-72,-61,-68,-55,-74,-62,-70,-59,
-66,-73,-60,-68,-57,-71,-63,-76,-61,-67,
-58,-72,-64,-69,-56,-74,-62,-70,-59,-67,
-73,-61,-68,-57,-71,-63,-66,-59,-74,-62,
-69,-56,-72,-60,-67,-58,-73,-62,-55,-70,
-64,-59,-71,-61,-68,-57,-74,-63,-66,-60,-72];
const sfe_F533L_CEF = [-60,-78,-52,-71,-64,-82,-57,-69,-75,-55,
-68,-80,-58,-72,-63,-77,-54,-70,-66,-81,
-59,-73,-62,-78,-56,-69,-74,-52,-67,-79,
-61,-71,-57,-76,-64,-83,-58,-70,-65,-75,
-55,-72,-60,-79,-63,-68,-54,-74,-66,-80,
-59,-71,-62,-77,-57,-69,-73,-53,-66,-81,
-60,-75,-64,-84,-58,-70,-67,-78,-56,-72,
-63,-80,-59,-68,-75,-55,-71,-62,-82,-58,
-69,-76,-61,-73,-57,-83,-64,-70,-59,-78,
-66,-72,-55,-80,-62,-74,-60,-85,-65,-71,-68];
const sfe_T91A_CEF = [-50,-70,-45,-75,-55,-66,-48,-78,-58,-68,
-46,-72,-53,-80,-57,-65,-44,-71,-60,-76,
-49,-67,-54,-79,-47,-63,-72,-52,-69,-41,
-61,-75,-50,-68,-56,-81,-48,-70,-59,-74,
-46,-66,-53,-77,-57,-64,-50,-73,-55,-79,
-47,-69,-58,-74,-51,-67,-45,-72,-60,-78,
-49,-65,-56,-76,-48,-70,-54,-80,-46,-68,
-58,-73,-50,-66,-55,-77,-43,-69,-61,-75,
-42,-67,-52,-74,-57,-71,-48,-79,-54,-65,
-50,-70,-56,-76,-47,-68,-59,-73,-51,-66,-62];
const sfe_WT_IMP = [-52,-66,-45,-70,-50,-62,-43,-68,-55,-64,
-47,-60,-41,-67,-53,-71,-48,-58,-44,-65,
-50,-37,-63,-46,-69,-52,-59,-42,-66,-49,
-61,-45,-70,-51,-57,-43,-64,-48,-60,-46,
-67,-50,-56,-41,-63,-47,-69,-53,-58,-44,
-65,-49,-61,-45,-68,-52,-57,-42,-64,-48,
-60,-46,-70,-51,-55,-43,-66,-49,-62,-45,
-67,-53,-58,-44,-63,-47,-71,-50,-56,-42,
-65,-48,-61,-45,-69,-52,-57,-43,-64,-49,
-59,-46,-68,-51,-55,-44,-66,-50,-62,-47,-60];
const sfe_F533L_IMP = [-58,-76,-62,-80,-54,-70,-66,-78,-52,-72,
-63,-75,-57,-69,-60,-79,-55,-73,-64,-71,
-56,-77,-61,-68,-53,-74,-65,-80,-58,-70,
-62,-76,-43,-72,-59,-78,-54,-67,-63,-75,
-57,-71,-60,-79,-55,-69,-64,-74,-58,-77,
-61,-70,-45,-73,-56,-78,-63,-68,-59,-76,
-54,-72,-62,-79,-57,-71,-65,-75,-53,-70,
-60,-77,-58,-73,-64,-69,-56,-78,-61,-74,
-55,-71,-63,-76,-59,-80,-57,-72,-62,-75,
-58,-70,-64,-79,-56,-73,-61,-82,-59,-74,-66];
const sfe_T91A_IMP = [-62,-80,-55,-75,-48,-70,-58,-79,-52,-67,
-46,-73,-60,-77,-50,-69,-56,-81,-49,-71,
-57,-64,-47,-76,-54,-68,-45,-72,-59,-78,
-51,-66,-48,-74,-56,-70,-44,-77,-53,-69,
-58,-63,-46,-75,-52,-71,-49,-80,-55,-67,
-47,-73,-57,-65,-50,-76,-54,-70,-45,-72,
-59,-66,-48,-78,-53,-69,-56,-74,-46,-71,
-58,-64,-50,-79,-52,-68,-47,-75,-55,-70,
-49,-73,-57,-77,-51,-66,-48,-80,-54,-69,
-46,-72,-58,-76,-50,-67,-53,-79,-48,-71,-60];

// ---------------- tick values ----------------
const timeTicks = [0, 20000, 40000, 60000, 80000, 100000];
const timeMinor = [10000, 30000, 50000, 70000, 90000];
const residueTicks = [0, 100, 200, 300, 400, 500];
const residueMinor = [50, 150, 250, 350, 450, 550];

// ---------------- styling ----------------
const colors = {WT_CEF: "#000000", F533L_CEF: "#ff0000", T91A_CEF: "#00ee00",
                WT_IMP: "#ffff00", F533L_IMP: "#0000cc", T91A_IMP: "#ffa500"};

const byKey = (a, b, c, d, e, f) => ({WT_CEF: a, F533L_CEF: b, T91A_CEF: c, WT_IMP: d, F533L_IMP: e, T91A_IMP: f});

const sets = {
  rmsd: [time, byKey(rmsd_WT_CEF, rmsd_F533L_CEF, rmsd_T91A_CEF, rmsd_WT_IMP, rmsd_F533L_IMP, rmsd_T91A_IMP)],
  rmsf: [residues, byKey(rmsf_WT_CEF, rmsf_F533L_CEF, rmsf_T91A_CEF, rmsf_WT_IMP, rmsf_F533L_IMP, rmsf_T91A_IMP)],
  rg: [time, byKey(rg_WT_CEF, rg_F533L_CEF, rg_T91A_CEF, rg_WT_IMP, rg_F533L_IMP, rg_T91A_IMP)],
  hb: [timeHB, byKey(hb_WT_CEF, hb_F533L_CEF, hb_T91A_CEF, hb_WT_IMP, hb_F533L_IMP, hb_T91A_IMP)],
  ie: [time, byKey(ie_WT_CEF, ie_F533L_CEF, ie_T91A_CEF, ie_WT_IMP, ie_F533L_IMP, ie_T91A_IMP)],
  pe: [time, byKey(pe_WT_CEF, pe_F533L_CEF, pe_T91A_CEF, pe_WT_IMP, pe_F533L_IMP, pe_T91A_IMP)],
  sasa: [time, byKey(sasa_WT_CEF, sasa_F533L_CEF, sasa_T91A_CEF, sasa_WT_IMP, sasa_F533L_IMP, sasa_T91A_IMP)],
  sfe: [time, byKey(sfe_WT_CEF, sfe_F533L_CEF, sfe_T91A_CEF, sfe_WT_IMP, sfe_F533L_IMP, sfe_T91A_IMP)]
};
const bad = [];
for (const [name, [xs, obj]] of Object.entries(sets)) {
  for (const [k, arr] of Object.entries(obj)) if (arr.length !== xs.length) bad.push(`${name}_${k}: ${arr.length} vs ${xs.length}`);
}
if (bad.length) throw new Error("Length mismatch: " + bad.join("; "));

const fmtTime = d => d === 100000 ? "1e+05" : String(d);
const fmt1 = d => String(+d.toFixed(2));
const fmtInt = d => String(d);
const fmtE6 = d => String(+(d / 1e6).toFixed(3)) + "e+06";

const panels = [
  {tag: "(a)", tagXY: [8, 2], frame: [27, 20, 293, 207], col: [0, 306], set: sets.rmsd,
   xDomain: [0, 100000], yDomain: [-0.6, 1.6], xMajor: timeTicks, xMinor: timeMinor,
   yMajor: d3.range(-6, 17, 2).map(v => v / 10), yMinor: d3.range(-5, 16, 2).map(v => v / 10),
   xFmt: fmtTime, yFmt: fmt1, order: ["T91A_CEF", "F533L_CEF", "WT_IMP", "F533L_IMP", "T91A_IMP", "WT_CEF"], sw: 1.3,
   xLabel: ["Time (ps)", 160, 221], yLabel: ["RMSD (nm)", 6, 113]},
  {tag: "(b)", tagXY: [331, 2], frame: [335, 20, 608, 207], col: [306, 615], set: sets.rmsf,
   xDomain: [0, 560], yDomain: [0, 1.2], xMajor: residueTicks, xMinor: residueMinor,
   yMajor: d3.range(0, 13, 2).map(v => v / 10), yMinor: d3.range(1, 12, 2).map(v => v / 10),
   xFmt: fmtInt, yFmt: fmt1, order: ["T91A_CEF", "T91A_IMP", "WT_IMP", "F533L_CEF", "WT_CEF", "F533L_IMP"], sw: 1.5,
   xLabel: ["Number of Residues", 471, 221], yLabel: ["RMSF (nm)", 314, 113]},
  {tag: "(c)", tagXY: [8, 246], frame: [26, 264, 293, 449], col: [0, 306], set: sets.rg,
   xDomain: [0, 100000], yDomain: [2.6, 3.3], xMajor: timeTicks, xMinor: timeMinor,
   yMajor: d3.range(26, 34, 1).map(v => v / 10), yMinor: d3.range(265, 330, 10).map(v => v / 100),
   xFmt: fmtTime, yFmt: fmt1, order: ["T91A_CEF", "F533L_CEF", "WT_IMP", "F533L_IMP", "T91A_IMP", "WT_CEF"], sw: 1.4,
   xLabel: ["Time (ps)", 159, 464], yLabel: ["Radius of gyration (nm)", 5, 356]},
  {tag: "(d)", tagXY: [327, 246], frame: [333, 263, 602, 450], col: [306, 615], set: sets.hb,
   xDomain: [0, 100000], yDomain: [0, 10], xMajor: timeTicks, xMinor: timeMinor,
   yMajor: [0, 2, 4, 6, 8, 10], yMinor: [1, 3, 5, 7, 9],
   xFmt: fmtTime, yFmt: fmtInt, order: ["T91A_CEF", "F533L_CEF", "F533L_IMP", "WT_IMP", "T91A_IMP", "WT_CEF"], sw: 1.1, curve: "step",
   xLabel: ["Time (ps)", 467, 465], yLabel: ["Number of Hydrogen Bonds", 314, 356]},
  {tag: "(e)", tagXY: [8, 482], frame: [29, 501, 294, 687], col: [0, 306], set: sets.ie,
   xDomain: [0, 100000], yDomain: [-500, 100], xMajor: timeTicks, xMinor: timeMinor,
   yMajor: d3.range(-500, 101, 50), yMinor: d3.range(-475, 100, 50),
   xFmt: fmtTime, yFmt: fmtInt, order: ["T91A_CEF", "WT_CEF", "F533L_IMP", "F533L_CEF", "T91A_IMP", "WT_IMP"], sw: 1.5,
   xLabel: ["Time (ps)", 162, 701], yLabel: ["Interaction Energy (kJ/mol)", 6, 594]},
  {tag: "(f)", tagXY: [331, 482], frame: [358, 502, 603, 687], col: [306, 615], set: sets.pe,
   xDomain: [0, 100000], yDomain: [-2000000, -1950000], xMajor: timeTicks, xMinor: timeMinor,
   yMajor: d3.range(-2000000, -1949999, 5000), yMinor: d3.range(-1997500, -1950000, 5000),
   xFmt: fmtTime, yFmt: fmtE6, order: ["T91A_CEF", "F533L_CEF", "F533L_IMP", "WT_IMP", "T91A_IMP", "WT_CEF"], sw: 1.4,
   xLabel: ["Time (ps)", 482, 701], yLabel: ["Potential Energy (kJ/mol)", 315, 594]},
  {tag: "(g)", tagXY: [8, 713], frame: [29, 736, 295, 923], col: [0, 306], set: sets.sasa,
   xDomain: [0, 100000], yDomain: [200, 300], xMajor: timeTicks, xMinor: timeMinor,
   yMajor: d3.range(200, 301, 10), yMinor: d3.range(205, 300, 10),
   xFmt: fmtTime, yFmt: fmtInt, order: ["T91A_CEF", "WT_IMP", "F533L_CEF", "F533L_IMP", "T91A_IMP", "WT_CEF"], sw: 1.4,
   xLabel: ["Time (ps)", 162, 937], yLabel: ["Solvent Accessible Surface Area (nm<sup>2</sup>)", 7, 830]},
  {tag: "(h)", tagXY: [328, 713], frame: [338, 737, 603, 924], col: [306, 615], set: sets.sfe,
   xDomain: [0, 100000], yDomain: [-120, 0], xMajor: timeTicks, xMinor: timeMinor,
   yMajor: d3.range(-120, 1, 10), yMinor: d3.range(-115, 0, 10),
   xFmt: fmtTime, yFmt: fmtInt, order: ["T91A_CEF", "F533L_CEF", "F533L_IMP", "WT_IMP", "T91A_IMP", "WT_CEF"], sw: 1.4,
   xLabel: ["Time (ps)", 471, 939], yLabel: ["Solvation Free Energy (kJ/mol)", 314, 830]}
];

const page = document.getElementById("page");
const frameStroke = "#333";

for (const p of panels) {
  const [L, T, R, B] = p.frame;
  const [c0, c1] = p.col;
  const [xs, data] = p.set;
  const top = T - 10, bottom = B + 14;
  const fw = R - L, fh = B - T;
  const marks = [];
  for (const k of p.order) {
    const ys = data[k];
    const pts = xs.map((x, i) => ({x, y: ys[i]}));
    marks.push(Plot.line(pts, {x: "x", y: "y", stroke: colors[k], strokeWidth: p.sw,
      curve: p.curve || "linear", strokeLinejoin: "miter", strokeMiterlimit: 2}));
  }
  const tk = (vals, len) => [
    Plot.tickX(vals, {x: d => d, insetTop: fh - len, stroke: frameStroke}),
    Plot.tickX(vals, {x: d => d, insetBottom: fh - len, stroke: frameStroke})
  ];
  const tkY = (vals, len) => [
    Plot.tickY(vals, {y: d => d, insetRight: fw - len, stroke: frameStroke}),
    Plot.tickY(vals, {y: d => d, insetLeft: fw - len, stroke: frameStroke})
  ];
  marks.push(...tk(p.xMajor, 4), ...tk(p.xMinor, 2), ...tkY(p.yMajor, 4), ...tkY(p.yMinor, 2));
  marks.push(Plot.frame({stroke: frameStroke, strokeWidth: 1}));
  marks.push(Plot.axisX(p.xMajor, {anchor: "bottom", tickSize: 0, tickPadding: 3, tickFormat: p.xFmt, label: null}));
  marks.push(Plot.axisY(p.yMajor, {anchor: "left", tickSize: 0, tickPadding: 3, tickFormat: p.yFmt, label: null}));

  const svg = Plot.plot({
    width: c1 - c0, height: bottom - top,
    marginLeft: L - c0, marginRight: c1 - R, marginTop: T - top, marginBottom: bottom - B,
    x: {domain: p.xDomain}, y: {domain: p.yDomain},
    style: {fontFamily: "'Liberation Sans', Arial, sans-serif", fontSize: "6.6px", fontWeight: "bold",
            background: "transparent", overflow: "visible", color: "#000"},
    marks
  });
  const box = document.createElement("div");
  box.className = "box";
  box.style.left = c0 + "px"; box.style.top = top + "px"; box.style.width = (c1 - c0) + "px";
  box.appendChild(svg);
  page.appendChild(box);

  const tag = document.createElement("div");
  tag.className = "tag"; tag.textContent = p.tag;
  tag.style.left = p.tagXY[0] + "px"; tag.style.top = p.tagXY[1] + "px";
  page.appendChild(tag);

  const xl = document.createElement("div");
  xl.className = "xl"; xl.textContent = p.xLabel[0];
  xl.style.left = p.xLabel[1] + "px"; xl.style.top = p.xLabel[2] + "px";
  page.appendChild(xl);

  const yl = document.createElement("div");
  yl.className = "yl"; yl.innerHTML = p.yLabel[0];
  yl.style.left = p.yLabel[1] + "px"; yl.style.top = p.yLabel[2] + "px";
  page.appendChild(yl);
}

// ---------------- legend ----------------
const legendSlots = [[142, 182, 969], [257, 298, 969], [388, 430, 969], [142, 182, 984], [257, 298, 984], [388, 430, 984]];
seriesKeys.forEach((k, i) => {
  const [lx, tx, y] = legendSlots[i];
  const line = document.createElement("div");
  line.className = "lg-line";
  line.style.left = lx + "px"; line.style.top = (y - 1.25) + "px"; line.style.background = colors[k];
  page.appendChild(line);
  const t = document.createElement("div");
  t.className = "lg-text"; t.textContent = seriesLabels[i];
  t.style.left = tx + "px"; t.style.top = y + "px";
  page.appendChild(t);
});
</script>
</body>
</html>
